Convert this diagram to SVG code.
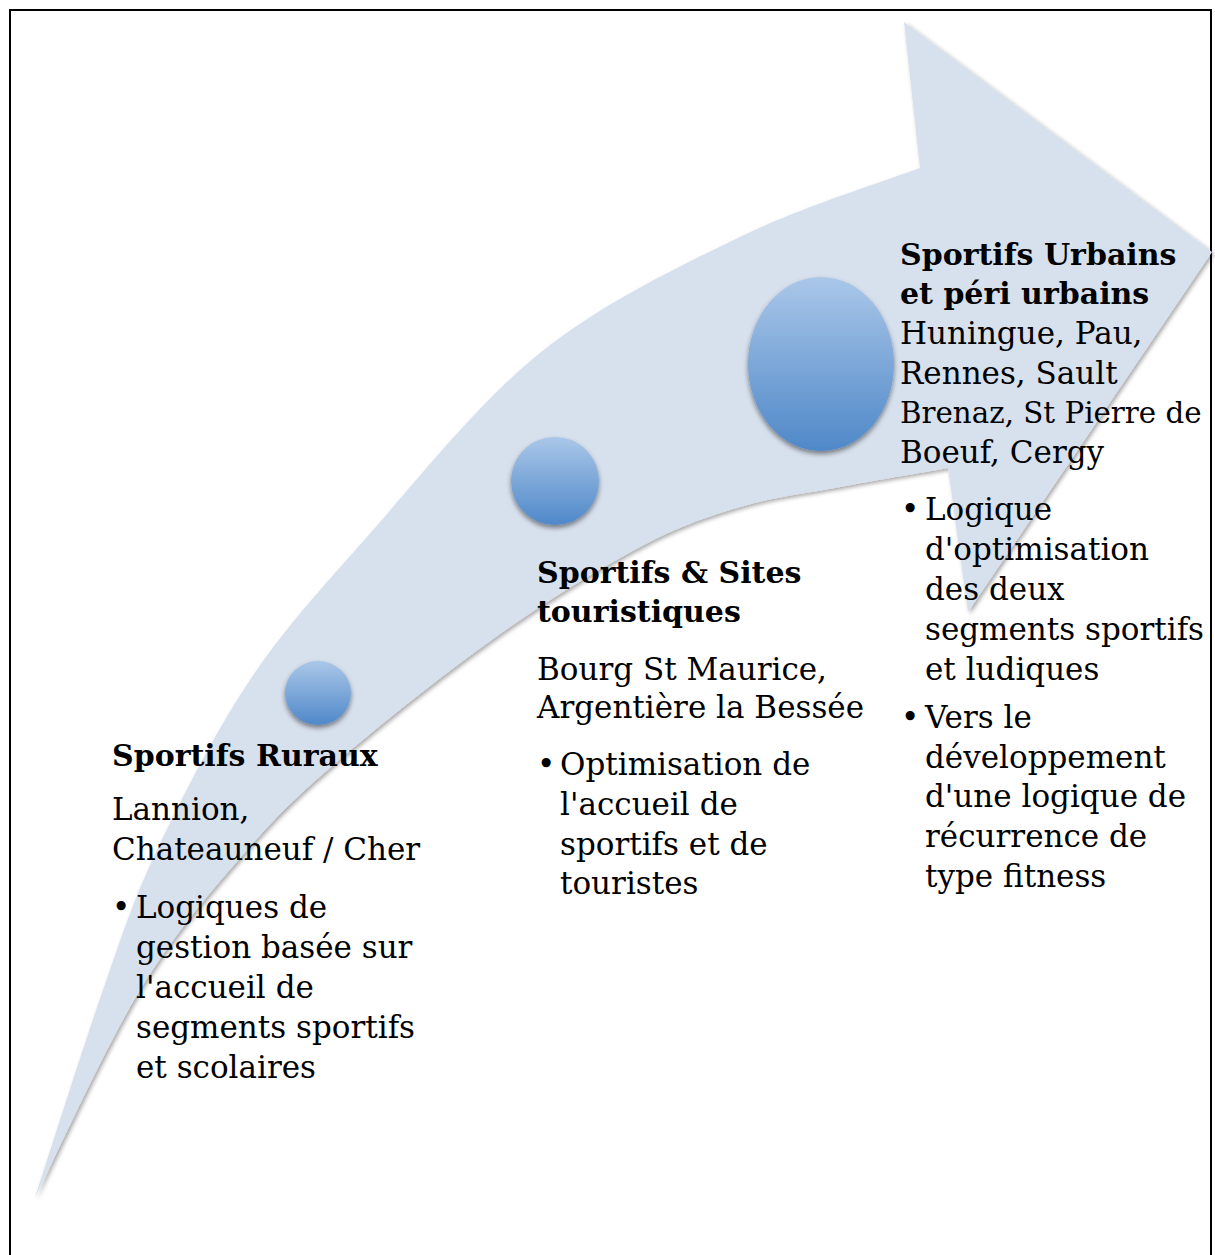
<svg xmlns="http://www.w3.org/2000/svg" width="1215" height="1255" viewBox="0 0 1215 1255">
<defs>
<linearGradient id="ballGrad" x1="0" y1="0" x2="0" y2="1">
<stop offset="0" stop-color="#aac7e9"/>
<stop offset="1" stop-color="#4f88c8"/>
</linearGradient>
<filter id="arrowShadow" x="-5%" y="-5%" width="110%" height="110%">
<feDropShadow dx="2" dy="2" stdDeviation="2" flood-color="#000" flood-opacity="0.35"/>
</filter>
<filter id="ballShadow" x="-20%" y="-20%" width="140%" height="150%">
<feDropShadow dx="0" dy="3" stdDeviation="2.5" flood-color="#000" flood-opacity="0.45"/>
</filter>
</defs>
<style>
.t{font-family:"DejaVu Serif","Liberation Serif",serif;font-size:31px;fill:#000}
.b{font-family:"DejaVu Serif","Liberation Serif",serif;font-size:30px;font-weight:bold;fill:#000}
.ball{fill:url(#ballGrad);filter:url(#ballShadow)}
</style>
<rect x="0" y="0" width="1215" height="1255" fill="#fff"/>
<rect x="10" y="10" width="1201" height="1270" fill="none" stroke="#000" stroke-width="2"/>
<g id="arrow">
<path filter="url(#arrowShadow)" fill="#d7e0ed" d="M35,1198 C46.3,1163.3 82.7,1048 103,990 C123.3,932 132.5,901.7 157,850 C181.5,798.3 215,732.2 250,680 C285,627.8 318.7,591.5 367,537 C415.3,482.5 477.8,403 540,353 C602.2,303 676.7,267.8 740,237 C803.3,206.2 890,179.5 920,168 L904,22 L1212,252 L968,612 L948,468 C930,471.2 874.7,480.5 840,487 C805.3,493.5 773.3,497 740,507 C706.7,517 680,525.8 640,547 C600,568.2 549.2,599.3 500,634 C450.8,668.7 387.2,719 345,755 C302.8,791 281.2,810.8 247,850 C212.8,889.2 175.3,932 140,990 C104.7,1048 52.5,1163.3 35,1198 Z"/>
</g>
<g id="ball-1"><ellipse class="ball" cx="318" cy="693" rx="33" ry="32"/></g>
<g id="ball-2"><ellipse class="ball" cx="555" cy="481" rx="44" ry="44"/></g>
<g id="ball-3"><ellipse class="ball" cx="821" cy="364" rx="73" ry="87"/></g>
<g id="node-rural">
<text class="b" x="112" y="766">Sportifs Ruraux</text>
<text class="t" x="112" y="820">Lannion,</text>
<text class="t" x="112" y="860">Chateauneuf / Cher</text>
<text class="t" x="112" y="918">•</text>
<text class="t" x="136" y="918">Logiques de</text>
<text class="t" x="136" y="958">gestion basée sur</text>
<text class="t" x="136" y="998">l'accueil de</text>
<text class="t" x="136" y="1038">segments sportifs</text>
<text class="t" x="136" y="1078">et scolaires</text>
</g>
<g id="node-sites">
<text class="b" x="537" y="583">Sportifs &amp; Sites</text>
<text class="b" x="537" y="622">touristiques</text>
<text class="t" x="537" y="680">Bourg St Maurice,</text>
<text class="t" x="537" y="718">Argentière la Bessée</text>
<text class="t" x="537" y="775">•</text>
<text class="t" x="560" y="775">Optimisation de</text>
<text class="t" x="560" y="815">l'accueil de</text>
<text class="t" x="560" y="855">sportifs et de</text>
<text class="t" x="560" y="894">touristes</text>
</g>
<g id="node-urbains">
<text class="b" x="900" y="265">Sportifs Urbains</text>
<text class="b" x="900" y="304">et péri urbains</text>
<text class="t" x="900" y="344">Huningue, Pau,</text>
<text class="t" x="900" y="384">Rennes, Sault</text>
<text class="t" x="900" y="423" style="font-size:29.3px">Brenaz, St Pierre de</text>
<text class="t" x="900" y="463">Boeuf, Cergy</text>
<text class="t" x="901" y="520">•</text>
<text class="t" x="925" y="520">Logique</text>
<text class="t" x="925" y="560">d'optimisation</text>
<text class="t" x="925" y="600">des deux</text>
<text class="t" x="925" y="640">segments sportifs</text>
<text class="t" x="925" y="680">et ludiques</text>
<text class="t" x="901" y="728">•</text>
<text class="t" x="925" y="728">Vers le</text>
<text class="t" x="925" y="768">développement</text>
<text class="t" x="925" y="807">d'une logique de</text>
<text class="t" x="925" y="847">récurrence de</text>
<text class="t" x="925" y="887">type fitness</text>
</g>
</svg>
